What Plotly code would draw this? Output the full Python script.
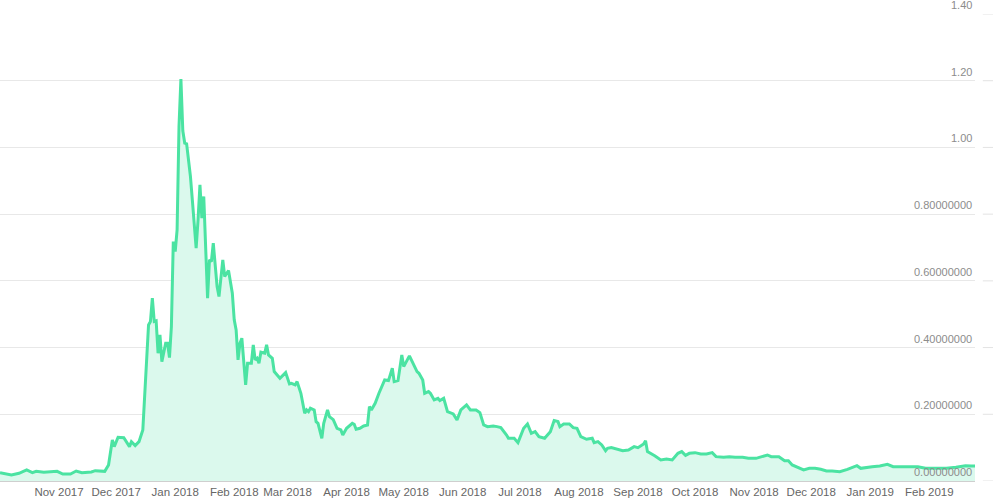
import plotly.graph_objects as go

dates = [
    "2017-10-01", "2017-10-06", "2017-10-07", "2017-10-11", "2017-10-15", "2017-10-18",
    "2017-10-20", "2017-10-24", "2017-10-31", "2017-11-03", "2017-11-07", "2017-11-10",
    "2017-11-13", "2017-11-18", "2017-11-20", "2017-11-25", "2017-11-27", "2017-11-29",
    "2017-11-30", "2017-12-02", "2017-12-05", "2017-12-08", "2017-12-09", "2017-12-11",
    "2017-12-13", "2017-12-15", "2017-12-16", "2017-12-18", "2017-12-19", "2017-12-20",
    "2017-12-21", "2017-12-22", "2017-12-23", "2017-12-24", "2017-12-25", "2017-12-27",
    "2017-12-28", "2017-12-29", "2017-12-30", "2017-12-31", "2018-01-01", "2018-01-02",
    "2018-01-03", "2018-01-04", "2018-01-05", "2018-01-06", "2018-01-07", "2018-01-09",
    "2018-01-10", "2018-01-11", "2018-01-12", "2018-01-13", "2018-01-14", "2018-01-15",
    "2018-01-16", "2018-01-18", "2018-01-19", "2018-01-20", "2018-01-21", "2018-01-23",
    "2018-01-24", "2018-01-26", "2018-01-27", "2018-01-29", "2018-01-31", "2018-02-01",
    "2018-02-02", "2018-02-03", "2018-02-04", "2018-02-05", "2018-02-07", "2018-02-08",
    "2018-02-10", "2018-02-11", "2018-02-12", "2018-02-13", "2018-02-14", "2018-02-15",
    "2018-02-17", "2018-02-18", "2018-02-19", "2018-02-21", "2018-02-22", "2018-02-25",
    "2018-02-26", "2018-02-28", "2018-03-02", "2018-03-03", "2018-03-05", "2018-03-06",
    "2018-03-08", "2018-03-10", "2018-03-11", "2018-03-12", "2018-03-13", "2018-03-15",
    "2018-03-16", "2018-03-17", "2018-03-19", "2018-03-20", "2018-03-22", "2018-03-23",
    "2018-03-25", "2018-03-27", "2018-03-29", "2018-03-30", "2018-04-01", "2018-04-04",
    "2018-04-05", "2018-04-06", "2018-04-08", "2018-04-10", "2018-04-12", "2018-04-13",
    "2018-04-14", "2018-04-16", "2018-04-18", "2018-04-19", "2018-04-21", "2018-04-23",
    "2018-04-25", "2018-04-26", "2018-04-28", "2018-04-30", "2018-05-01", "2018-05-04",
    "2018-05-05", "2018-05-06", "2018-05-08", "2018-05-09", "2018-05-11", "2018-05-12",
    "2018-05-14", "2018-05-15", "2018-05-17", "2018-05-19", "2018-05-20", "2018-05-22",
    "2018-05-24", "2018-05-27", "2018-05-29", "2018-05-31", "2018-06-03", "2018-06-05",
    "2018-06-08", "2018-06-10", "2018-06-12", "2018-06-14", "2018-06-17", "2018-06-19",
    "2018-06-21", "2018-06-24", "2018-06-25", "2018-06-28", "2018-06-30", "2018-07-03",
    "2018-07-05", "2018-07-07", "2018-07-09", "2018-07-11", "2018-07-14", "2018-07-17",
    "2018-07-19", "2018-07-21", "2018-07-22", "2018-07-24", "2018-07-27", "2018-07-29",
    "2018-07-31", "2018-08-02", "2018-08-05", "2018-08-08", "2018-08-09", "2018-08-11",
    "2018-08-13", "2018-08-15", "2018-08-16", "2018-08-18", "2018-08-22", "2018-08-24",
    "2018-08-27", "2018-08-30", "2018-09-01", "2018-09-04", "2018-09-05", "2018-09-06",
    "2018-09-10", "2018-09-13", "2018-09-16", "2018-09-19", "2018-09-22", "2018-09-24",
    "2018-09-26", "2018-09-28", "2018-10-01", "2018-10-04", "2018-10-07", "2018-10-10",
    "2018-10-12", "2018-10-16", "2018-10-19", "2018-10-22", "2018-10-26", "2018-10-29",
    "2018-11-02", "2018-11-05", "2018-11-08", "2018-11-10", "2018-11-14", "2018-11-17",
    "2018-11-19", "2018-11-21", "2018-11-24", "2018-11-27", "2018-11-30", "2018-12-03",
    "2018-12-06", "2018-12-09", "2018-12-12", "2018-12-16", "2018-12-20", "2018-12-23",
    "2018-12-25", "2018-12-27", "2018-12-30", "2019-01-02", "2019-01-06", "2019-01-10",
    "2019-01-13", "2019-01-17", "2019-01-22", "2019-01-26", "2019-01-30", "2019-02-05",
    "2019-02-10", "2019-02-15", "2019-02-20", "2019-02-23", "2019-02-25",
]

prices = [
    0.025, 0.021, 0.018, 0.023, 0.033, 0.025,
    0.029, 0.026, 0.029, 0.021, 0.021, 0.030,
    0.025, 0.027, 0.031, 0.029, 0.048, 0.123,
    0.103, 0.131, 0.130, 0.103, 0.118, 0.106,
    0.118, 0.153, 0.263, 0.468, 0.478, 0.548,
    0.478, 0.480, 0.383, 0.438, 0.358, 0.413,
    0.413, 0.370, 0.463, 0.718, 0.688, 0.753,
    1.063, 1.205, 1.050, 1.013, 1.011, 0.913,
    0.843, 0.753, 0.698, 0.783, 0.888, 0.788,
    0.853, 0.548, 0.663, 0.658, 0.713, 0.583,
    0.553, 0.663, 0.613, 0.631, 0.563, 0.483,
    0.453, 0.363, 0.413, 0.428, 0.288, 0.353,
    0.353, 0.408, 0.363, 0.368, 0.353, 0.386,
    0.383, 0.408, 0.378, 0.368, 0.328, 0.308,
    0.313, 0.325, 0.291, 0.293, 0.288, 0.298,
    0.263, 0.203, 0.213, 0.208, 0.218, 0.213,
    0.178, 0.173, 0.128, 0.173, 0.213, 0.193,
    0.184, 0.158, 0.153, 0.138, 0.158, 0.173,
    0.170, 0.155, 0.158, 0.165, 0.168, 0.223,
    0.213, 0.233, 0.263, 0.278, 0.303, 0.301,
    0.338, 0.298, 0.301, 0.378, 0.343, 0.375,
    0.363, 0.355, 0.328, 0.323, 0.303, 0.263,
    0.268, 0.263, 0.243, 0.248, 0.241, 0.248,
    0.208, 0.201, 0.183, 0.213, 0.228, 0.213,
    0.213, 0.205, 0.168, 0.163, 0.165, 0.163,
    0.160, 0.138, 0.128, 0.128, 0.115, 0.158,
    0.171, 0.143, 0.148, 0.133, 0.128, 0.148,
    0.181, 0.178, 0.163, 0.171, 0.171, 0.160,
    0.158, 0.133, 0.125, 0.128, 0.115, 0.118,
    0.108, 0.091, 0.098, 0.100, 0.093, 0.091,
    0.093, 0.103, 0.100, 0.111, 0.121, 0.088,
    0.075, 0.063, 0.066, 0.063, 0.083, 0.088,
    0.077, 0.083, 0.085, 0.081, 0.081, 0.085,
    0.073, 0.071, 0.073, 0.071, 0.071, 0.068,
    0.068, 0.073, 0.078, 0.073, 0.073, 0.061,
    0.061, 0.048, 0.040, 0.033, 0.038, 0.038,
    0.035, 0.030, 0.030, 0.028, 0.035, 0.041,
    0.046, 0.038, 0.041, 0.043, 0.045, 0.050,
    0.043, 0.043, 0.043, 0.043, 0.038, 0.038,
    0.038, 0.041, 0.046, 0.045, 0.045,
]

x_tick_dates = [
    "2017-11-01", "2017-12-01", "2018-01-01", "2018-02-01", "2018-03-01", "2018-04-01",
    "2018-05-01", "2018-06-01", "2018-07-01", "2018-08-01", "2018-09-01", "2018-10-01",
    "2018-11-01", "2018-12-01", "2019-01-01", "2019-02-01",
]
x_tick_labels = [
    "Nov 2017", "Dec 2017", "Jan 2018", "Feb 2018", "Mar 2018", "Apr 2018",
    "May 2018", "Jun 2018", "Jul 2018", "Aug 2018", "Sep 2018", "Oct 2018",
    "Nov 2018", "Dec 2018", "Jan 2019", "Feb 2019",
]
y_tick_values = [0.0, 0.2, 0.4, 0.6, 0.8, 1.0, 1.2, 1.4]
y_tick_labels = ["0.00000000", "0.20000000", "0.40000000", "0.60000000",
                 "0.80000000", "1.00", "1.20", "1.40"]

fig = go.Figure()
fig.add_trace(go.Scatter(
    x=dates, y=prices, mode="lines",
    line=dict(color="#4be3a2", width=3),
    fill="tozeroy", fillcolor="#dbf9ed",
    hoverinfo="x+y",
))

# short tick marks to the right of the plot area
for v in y_tick_values:
    fig.add_shape(type="line", xref="paper", yref="y",
                  x0=1.008, x1=1.02, y0=v, y1=v,
                  line=dict(color="#e3e3e3", width=1))

# y-axis labels sit just above their gridlines, right-aligned inside the plot
for v, lab in zip(y_tick_values, y_tick_labels):
    fig.add_annotation(x=1, xref="paper", y=v, yref="y",
                       text=lab, showarrow=False,
                       xanchor="right", yanchor="bottom",
                       xshift=-1, yshift=1,
                       font=dict(size=11, color="#8c8c8c"))

fig.update_layout(
    width=993, height=502,
    margin=dict(l=0, r=18, t=14, b=21),
    paper_bgcolor="white", plot_bgcolor="white",
    showlegend=False,
    font=dict(family="Liberation Sans, Arial, sans-serif"),
    xaxis=dict(
        type="date",
        range=["2017-10-01", "2019-02-25"],
        tickvals=x_tick_dates, ticktext=x_tick_labels,
        showgrid=False, zeroline=False,
        showline=True, linecolor="#cfcfcf", linewidth=1,
        ticks="", tickfont=dict(size=11.5, color="#666666"),
    ),
    yaxis=dict(
        side="right",
        range=[0, 1.4],
        tickvals=y_tick_values, showticklabels=False,
        showgrid=True, gridcolor="#e8e8e8", gridwidth=1,
        zeroline=False, showline=False, ticks="",
    ),
)

fig.write_html("out.html", config={"displayModeBar": False},
               post_script="document.body.style.margin='0';")
